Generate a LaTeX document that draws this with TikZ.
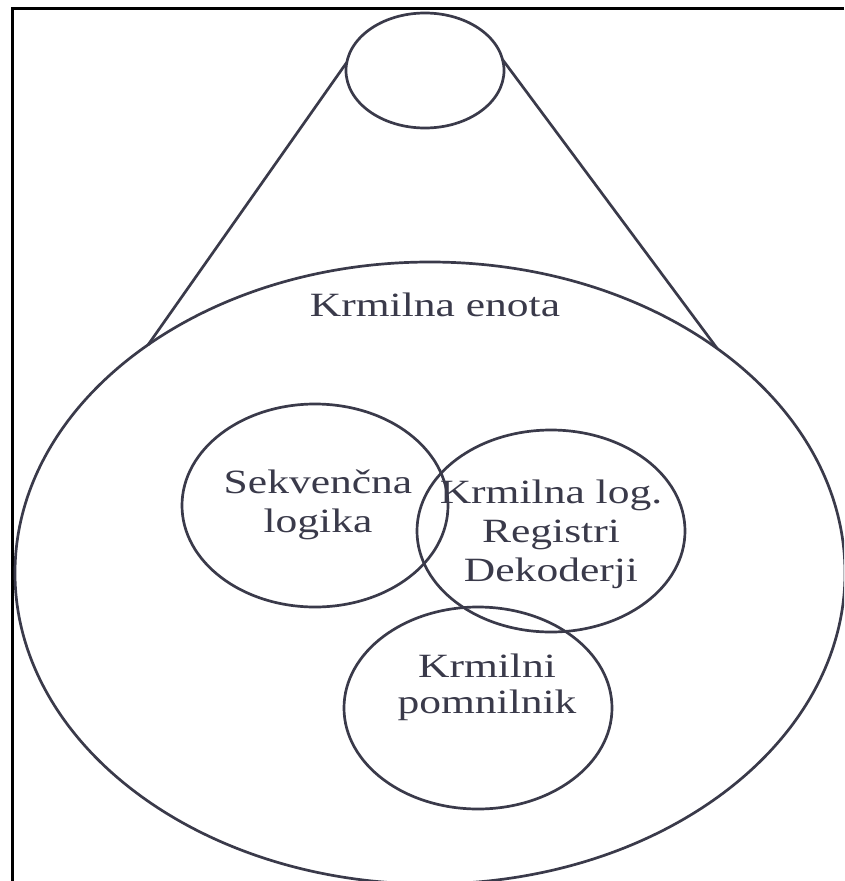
\documentclass[tikz,border=0pt]{standalone}
\usepackage{fontspec}
\setmainfont{Liberation Serif}
\usepackage{graphicx}
\usetikzlibrary{shapes.geometric}
\definecolor{ink}{RGB}{58,58,74}
% horizontally widened, centred multi-line text whose baseline is its first line
\newcommand{\widetext}[1]{\scalebox{1.28}[1]{\begin{tabular}[t]{@{}c@{}}#1\end{tabular}}}
\begin{document}
\begin{tikzpicture}[x=1pt,y=-1pt,
  outline/.style={ellipse, draw=ink, line width=2.7pt, inner sep=0pt, outer sep=0pt},
  link/.style={draw=ink, line width=2.7pt},
  caption/.style={anchor=base, inner sep=0pt, text=ink, font=\fontsize{34}{39}\selectfont}]
\clip (0,0) rectangle (844,881);

% frame
\draw[black, line width=3pt] (844,8) -- (12,8) -- (12,881);

% processor and the control unit it expands into
\node[outline, minimum width=158pt, minimum height=115pt] (cpu) at (425,70.5) {};
\node[outline, minimum width=830pt, minimum height=622pt] (cu) at (430,573) {};
\draw[link] (cpu.174) -- (cu.141);
\draw[link] (cpu.8) -- (cu.38);

% parts of the control unit
\node[outline, minimum width=266pt, minimum height=203pt] (seq) at (315,505.5) {};
\node[outline, minimum width=268pt, minimum height=202pt] (logic) at (551,531) {};
\node[outline, minimum width=268pt, minimum height=202pt] (mem) at (478,708) {};

% labels
\node[caption] (cuL) at (435,316) {\widetext{Krmilna enota}};
\node[caption] (seqL) at (318,493) {\widetext{Sekvenčna\\logika}};
\node[caption] (logicL) at (551,503) {\widetext{Krmilna log.\\Registri\\Dekoderji}};
\node[caption] (memL) at (487,677) {\widetext{Krmilni\\[-3pt]pomnilnik}};
\end{tikzpicture}
\end{document}
